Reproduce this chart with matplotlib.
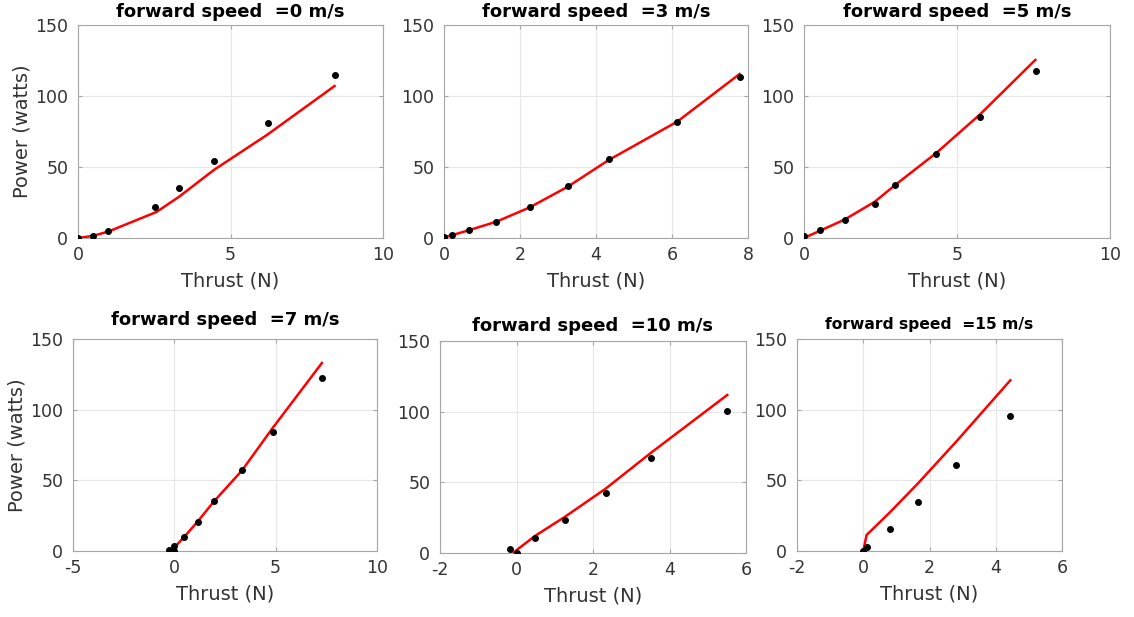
import matplotlib.pyplot as plt

# measured points (black dots) and model curve (red line) per forward speed
speeds = [0, 3, 5, 7, 10, 15]

thrust_meas = [
    [0, 0.49, 0.99, 2.53, 3.31, 4.46, 6.24, 8.43],
    [0, 0.2, 0.67, 1.38, 2.25, 3.25, 4.34, 6.14, 7.8],
    [0, 0.51, 1.33, 2.31, 2.99, 4.33, 5.75, 7.58],
    [-0.28, 0, 0, 0.49, 1.16, 1.95, 3.34, 4.85, 7.28],
    [-0.16, 0, 0.48, 1.26, 2.33, 3.52, 5.51],
    [0, 0.1, 0.82, 1.65, 2.8, 4.44],
]
power_meas = [
    [0, 1.4, 5.2, 21.8, 35.4, 54.5, 81, 114.8],
    [0.5, 1.9, 5.6, 11.5, 21.8, 36.4, 55.6, 81.7, 113.1],
    [1.6, 5.6, 12.7, 24.2, 37.6, 59.4, 85.4, 117.4],
    [0.5, 3.7, 0, 9.8, 20.6, 35.6, 57.2, 84.1, 122.1],
    [2.6, 0, 10.4, 23.5, 42.6, 66.9, 100.8],
    [0, 2.6, 15.5, 34.6, 60.5, 95.8],
]

thrust_model = [
    [0, 0.49, 0.99, 2.57, 3.31, 4.46, 6.19, 8.41],
    [0, 0.2, 0.67, 1.38, 2.25, 3.25, 4.34, 6.14, 7.78],
    [0, 0.51, 1.33, 2.31, 2.99, 4.33, 5.75, 7.56],
    [-0.15, 0, 0.49, 1.16, 1.95, 3.34, 4.85, 7.28],
    [-0.08, 0, 0.48, 1.26, 2.33, 3.52, 5.51],
    [0, 0.1, 0.81, 1.65, 2.8, 4.44],
]
power_model = [
    [0, 1.5, 4.5, 18.3, 29, 48, 72.5, 107],
    [0.5, 1.9, 5.6, 11.5, 21.5, 36, 55, 82, 115.5],
    [0, 5, 13, 25.5, 37.5, 60, 87, 125.4],
    [0, 2.5, 10, 21, 35, 57, 87, 133],
    [0, 2, 12, 25.5, 45.5, 71, 111.8],
    [0, 11.3, 27.5, 47.8, 77.2, 120.8],
]

xlims = [(0, 10), (0, 8), (0, 10), (-5, 10), (-2, 6), (-2, 6)]
xticks = [[0, 5, 10], [0, 2, 4, 6, 8], [0, 5, 10], [-5, 0, 5, 10],
          [-2, 0, 2, 4, 6], [-2, 0, 2, 4, 6]]

# axes boxes in pixels: left, top, right, bottom
boxes = [(78, 25, 383, 238), (444, 25, 748, 238), (804, 25, 1110, 238),
         (73, 339, 377, 551), (440, 341, 746, 553), (797, 339, 1062, 551)]
title_pads = [6, 6, 6, 10, 7, 7]

W, H = 1134, 617
plt.rcParams['font.family'] = 'DejaVu Sans'
plt.rcParams['axes.unicode_minus'] = False
fig = plt.figure(figsize=(W / 100, H / 100), dpi=100)

for i in range(6):
    l, t, r, b = boxes[i]
    ax = fig.add_axes([l / W, (H - b) / H, (r - l) / W, (b - t) / H])
    ax.plot(thrust_model[i], power_model[i], color='#ff0000', lw=1.8, zorder=3)
    ax.plot(thrust_meas[i], power_meas[i], 'o', color='black', ms=4, zorder=4)
    ax.set_xlim(xlims[i])
    ax.set_ylim(0, 150)
    ax.set_xticks(xticks[i])
    ax.set_yticks([0, 50, 100, 150])
    ax.grid(True, color='#e6e6e6', lw=0.8)
    ax.set_axisbelow(True)
    for s in ax.spines.values():
        s.set_color('#a6a6a6')
    ax.tick_params(direction='in', length=3, colors='#a6a6a6',
                   labelcolor='#333333', labelsize=12.5, top=True, right=True)
    ax.tick_params(axis='x', pad=6)
    ax.tick_params(axis='y', pad=7)
    ax.set_xlabel('Thrust (N)', fontsize=14, color='#333333', labelpad=5)
    if i % 3 == 0:
        ax.set_ylabel('Power (watts)', fontsize=14, color='#333333', labelpad=3)
    fs = 11.2 if i == 5 else 13
    ax.set_title('forward speed  =%d m/s' % speeds[i], fontsize=fs,
                 fontweight='bold', pad=title_pads[i])

fig.savefig('out.png', dpi=100)
